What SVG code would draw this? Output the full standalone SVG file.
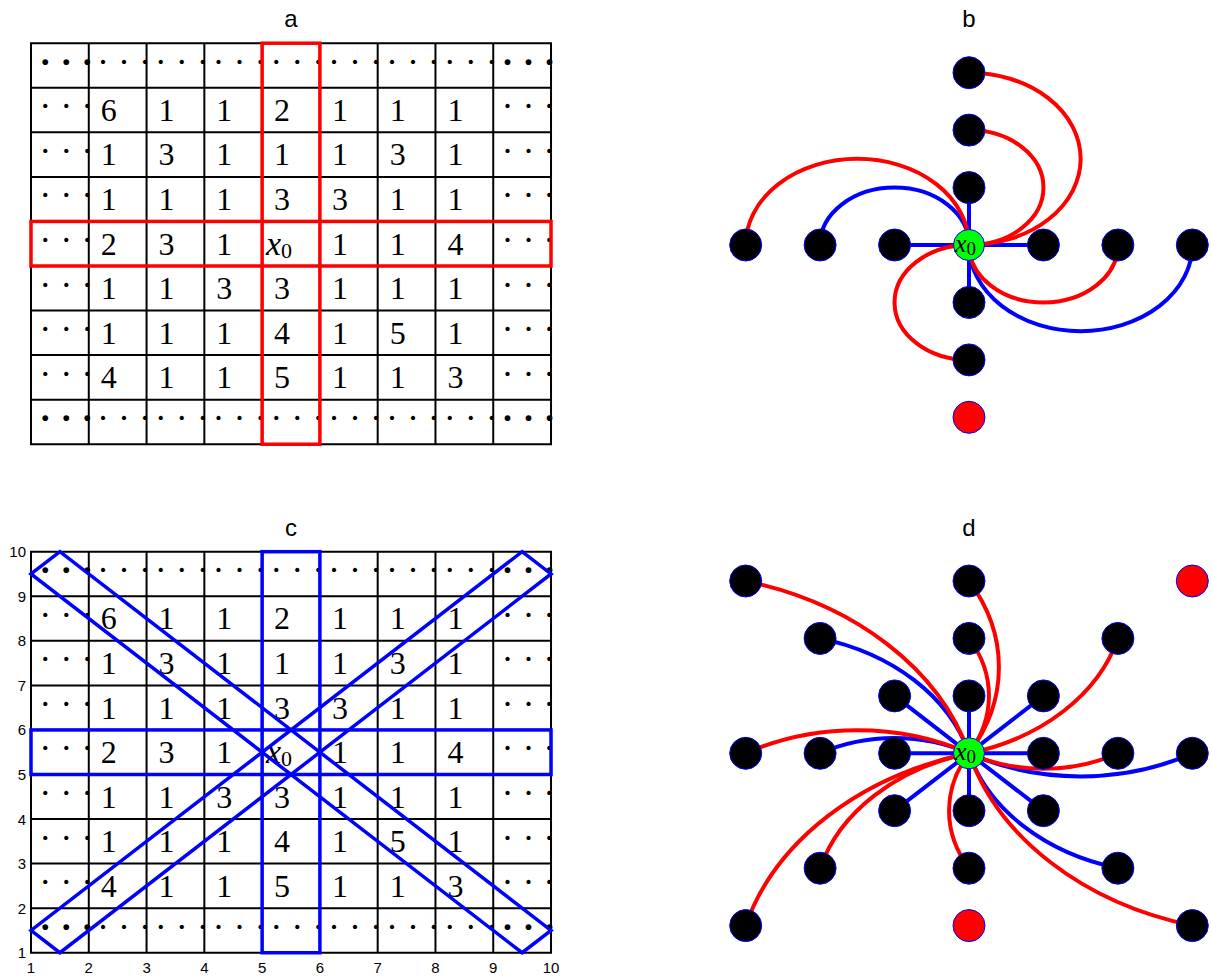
<svg xmlns="http://www.w3.org/2000/svg" width="1212" height="979" viewBox="0 0 1212 979">
<style>
.title{font-family:"Liberation Sans",Arial,sans-serif;font-size:24px;fill:#000;text-anchor:middle}
.t{font-family:"Liberation Serif","Times New Roman",serif;font-size:32px;fill:#000}
.dt{font-family:"Liberation Serif","Times New Roman",serif;font-size:36px;letter-spacing:9px;fill:#000}
.db{font-weight:bold}
.ax{font-family:"Liberation Sans",Arial,sans-serif;font-size:15px;fill:#000}
.grid{fill:none;stroke:#000;stroke-width:2}
.hlr{fill:none;stroke:#f00;stroke-width:3.5}
.hlb{fill:none;stroke:#00f;stroke-width:3.5}
.e{fill:none;stroke-width:4}
.eb{stroke:#00f}
.er{stroke:#f00}
.nk{fill:#000;stroke:#00f;stroke-width:1}
.nr{fill:#f00;stroke:#00f;stroke-width:1}
.ng{fill:#0f0;stroke:#00f;stroke-width:1}
.nl{font-family:"Liberation Serif","Times New Roman",serif;font-size:26px;font-style:italic;fill:#000}
</style>

<text class="title" x="291" y="27">a</text>
<text class="title" x="969" y="27">b</text>
<text class="title" x="291" y="536">c</text>
<text class="title" x="969" y="536">d</text>

<!-- Panel a -->
<g id="panel-a">
<path class="grid" d="M31,43.2H551.02V444.24H31Z M88.78,43.2V444.24 M146.56,43.2V444.24 M204.34,43.2V444.24 M262.12,43.2V444.24 M319.9,43.2V444.24 M377.68,43.2V444.24 M435.46,43.2V444.24 M493.24,43.2V444.24 M31,87.76H551.02 M31,132.32H551.02 M31,176.88H551.02 M31,221.44H551.02 M31,266H551.02 M31,310.56H551.02 M31,355.12H551.02 M31,399.68H551.02"/>
<g id="a-cells">
<text class="dt db" x="39.2" y="73.7">···</text><text class="dt" x="97" y="73.7">···</text><text class="dt" x="154.8" y="73.7">···</text><text class="dt" x="212.5" y="73.7">···</text><text class="dt" x="270.3" y="73.7">···</text><text class="dt" x="328.1" y="73.7">···</text><text class="dt" x="385.9" y="73.7">···</text><text class="dt" x="443.7" y="73.7">···</text><text class="dt db" x="501.4" y="73.7">···</text>
<text class="dt" x="39.2" y="118.2">···</text><text class="t" x="100.8" y="120.8">6</text><text class="t" x="158.6" y="120.8">1</text><text class="t" x="216.3" y="120.8">1</text><text class="t" x="274.1" y="120.8">2</text><text class="t" x="331.9" y="120.8">1</text><text class="t" x="389.7" y="120.8">1</text><text class="t" x="447.5" y="120.8">1</text><text class="dt" x="501.4" y="118.2">···</text>
<text class="dt" x="39.2" y="162.8">···</text><text class="t" x="100.8" y="165.4">1</text><text class="t" x="158.6" y="165.4">3</text><text class="t" x="216.3" y="165.4">1</text><text class="t" x="274.1" y="165.4">1</text><text class="t" x="331.9" y="165.4">1</text><text class="t" x="389.7" y="165.4">3</text><text class="t" x="447.5" y="165.4">1</text><text class="dt" x="501.4" y="162.8">···</text>
<text class="dt" x="39.2" y="207.4">···</text><text class="t" x="100.8" y="210">1</text><text class="t" x="158.6" y="210">1</text><text class="t" x="216.3" y="210">1</text><text class="t" x="274.1" y="210">3</text><text class="t" x="331.9" y="210">3</text><text class="t" x="389.7" y="210">1</text><text class="t" x="447.5" y="210">1</text><text class="dt" x="501.4" y="207.4">···</text>
<text class="dt" x="39.2" y="251.9">···</text><text class="t" x="100.8" y="254.5">2</text><text class="t" x="158.6" y="254.5">3</text><text class="t" x="216.3" y="254.5">1</text><text class="t" x="266" y="254.5"><tspan font-style="italic" font-size="34">x</tspan><tspan font-size="22" dy="3">0</tspan></text><text class="t" x="331.9" y="254.5">1</text><text class="t" x="389.7" y="254.5">1</text><text class="t" x="447.5" y="254.5">4</text><text class="dt" x="501.4" y="251.9">···</text>
<text class="dt" x="39.2" y="296.5">···</text><text class="t" x="100.8" y="299.1">1</text><text class="t" x="158.6" y="299.1">1</text><text class="t" x="216.3" y="299.1">3</text><text class="t" x="274.1" y="299.1">3</text><text class="t" x="331.9" y="299.1">1</text><text class="t" x="389.7" y="299.1">1</text><text class="t" x="447.5" y="299.1">1</text><text class="dt" x="501.4" y="296.5">···</text>
<text class="dt" x="39.2" y="341">···</text><text class="t" x="100.8" y="343.6">1</text><text class="t" x="158.6" y="343.6">1</text><text class="t" x="216.3" y="343.6">1</text><text class="t" x="274.1" y="343.6">4</text><text class="t" x="331.9" y="343.6">1</text><text class="t" x="389.7" y="343.6">5</text><text class="t" x="447.5" y="343.6">1</text><text class="dt" x="501.4" y="341">···</text>
<text class="dt" x="39.2" y="385.6">···</text><text class="t" x="100.8" y="388.2">4</text><text class="t" x="158.6" y="388.2">1</text><text class="t" x="216.3" y="388.2">1</text><text class="t" x="274.1" y="388.2">5</text><text class="t" x="331.9" y="388.2">1</text><text class="t" x="389.7" y="388.2">1</text><text class="t" x="447.5" y="388.2">3</text><text class="dt" x="501.4" y="385.6">···</text>
<text class="dt db" x="39.2" y="430.2">···</text><text class="dt" x="97" y="430.2">···</text><text class="dt" x="154.8" y="430.2">···</text><text class="dt" x="212.5" y="430.2">···</text><text class="dt" x="270.3" y="430.2">···</text><text class="dt" x="328.1" y="430.2">···</text><text class="dt" x="385.9" y="430.2">···</text><text class="dt" x="443.7" y="430.2">···</text><text class="dt db" x="501.4" y="430.2">···</text>
</g>
<rect class="hlr" x="262.12" y="43.2" width="57.78" height="401.04"/>
<rect class="hlr" x="31" y="221.44" width="520.02" height="44.56"/>
</g>

<!-- Panel c -->
<g id="panel-c">
<g transform="translate(0,508.5)">
<path class="grid" d="M31,43.2H551.02V444.24H31Z M88.78,43.2V444.24 M146.56,43.2V444.24 M204.34,43.2V444.24 M262.12,43.2V444.24 M319.9,43.2V444.24 M377.68,43.2V444.24 M435.46,43.2V444.24 M493.24,43.2V444.24 M31,87.76H551.02 M31,132.32H551.02 M31,176.88H551.02 M31,221.44H551.02 M31,266H551.02 M31,310.56H551.02 M31,355.12H551.02 M31,399.68H551.02"/>
<g id="c-cells">
<text class="dt db" x="39.2" y="73.7">···</text><text class="dt" x="97" y="73.7">···</text><text class="dt" x="154.8" y="73.7">···</text><text class="dt" x="212.5" y="73.7">···</text><text class="dt" x="270.3" y="73.7">···</text><text class="dt" x="328.1" y="73.7">···</text><text class="dt" x="385.9" y="73.7">···</text><text class="dt" x="443.7" y="73.7">···</text><text class="dt db" x="501.4" y="73.7">···</text>
<text class="dt" x="39.2" y="118.2">···</text><text class="t" x="100.8" y="120.8">6</text><text class="t" x="158.6" y="120.8">1</text><text class="t" x="216.3" y="120.8">1</text><text class="t" x="274.1" y="120.8">2</text><text class="t" x="331.9" y="120.8">1</text><text class="t" x="389.7" y="120.8">1</text><text class="t" x="447.5" y="120.8">1</text><text class="dt" x="501.4" y="118.2">···</text>
<text class="dt" x="39.2" y="162.8">···</text><text class="t" x="100.8" y="165.4">1</text><text class="t" x="158.6" y="165.4">3</text><text class="t" x="216.3" y="165.4">1</text><text class="t" x="274.1" y="165.4">1</text><text class="t" x="331.9" y="165.4">1</text><text class="t" x="389.7" y="165.4">3</text><text class="t" x="447.5" y="165.4">1</text><text class="dt" x="501.4" y="162.8">···</text>
<text class="dt" x="39.2" y="207.4">···</text><text class="t" x="100.8" y="210">1</text><text class="t" x="158.6" y="210">1</text><text class="t" x="216.3" y="210">1</text><text class="t" x="274.1" y="210">3</text><text class="t" x="331.9" y="210">3</text><text class="t" x="389.7" y="210">1</text><text class="t" x="447.5" y="210">1</text><text class="dt" x="501.4" y="207.4">···</text>
<text class="dt" x="39.2" y="251.9">···</text><text class="t" x="100.8" y="254.5">2</text><text class="t" x="158.6" y="254.5">3</text><text class="t" x="216.3" y="254.5">1</text><text class="t" x="266" y="254.5"><tspan font-style="italic" font-size="34">x</tspan><tspan font-size="22" dy="3">0</tspan></text><text class="t" x="331.9" y="254.5">1</text><text class="t" x="389.7" y="254.5">1</text><text class="t" x="447.5" y="254.5">4</text><text class="dt" x="501.4" y="251.9">···</text>
<text class="dt" x="39.2" y="296.5">···</text><text class="t" x="100.8" y="299.1">1</text><text class="t" x="158.6" y="299.1">1</text><text class="t" x="216.3" y="299.1">3</text><text class="t" x="274.1" y="299.1">3</text><text class="t" x="331.9" y="299.1">1</text><text class="t" x="389.7" y="299.1">1</text><text class="t" x="447.5" y="299.1">1</text><text class="dt" x="501.4" y="296.5">···</text>
<text class="dt" x="39.2" y="341">···</text><text class="t" x="100.8" y="343.6">1</text><text class="t" x="158.6" y="343.6">1</text><text class="t" x="216.3" y="343.6">1</text><text class="t" x="274.1" y="343.6">4</text><text class="t" x="331.9" y="343.6">1</text><text class="t" x="389.7" y="343.6">5</text><text class="t" x="447.5" y="343.6">1</text><text class="dt" x="501.4" y="341">···</text>
<text class="dt" x="39.2" y="385.6">···</text><text class="t" x="100.8" y="388.2">4</text><text class="t" x="158.6" y="388.2">1</text><text class="t" x="216.3" y="388.2">1</text><text class="t" x="274.1" y="388.2">5</text><text class="t" x="331.9" y="388.2">1</text><text class="t" x="389.7" y="388.2">1</text><text class="t" x="447.5" y="388.2">3</text><text class="dt" x="501.4" y="385.6">···</text>
<text class="dt db" x="39.2" y="430.2">···</text><text class="dt" x="97" y="430.2">···</text><text class="dt" x="154.8" y="430.2">···</text><text class="dt" x="212.5" y="430.2">···</text><text class="dt" x="270.3" y="430.2">···</text><text class="dt" x="328.1" y="430.2">···</text><text class="dt" x="385.9" y="430.2">···</text><text class="dt" x="443.7" y="430.2">···</text><text class="dt db" x="501.4" y="430.2">···</text>
</g>
</g>
<g id="c-highlights">
<rect class="hlb" x="262.12" y="551.7" width="57.78" height="401.04"/>
<rect class="hlb" x="31" y="729.94" width="520.02" height="44.56"/>
<polygon class="hlb" points="31,573.98 59.89,551.7 551.02,930.46 522.13,952.74"/>
<polygon class="hlb" points="31,930.46 59.89,952.74 551.02,573.98 522.13,551.7"/>
</g>
<g id="c-axis">
<text class="ax" text-anchor="end" x="26" y="958">1</text>
<text class="ax" text-anchor="end" x="26" y="913.6">2</text>
<text class="ax" text-anchor="end" x="26" y="869">3</text>
<text class="ax" text-anchor="end" x="26" y="824.5">4</text>
<text class="ax" text-anchor="end" x="26" y="779.9">5</text>
<text class="ax" text-anchor="end" x="26" y="735.3">6</text>
<text class="ax" text-anchor="end" x="26" y="690.8">7</text>
<text class="ax" text-anchor="end" x="26" y="646.2">8</text>
<text class="ax" text-anchor="end" x="26" y="601.7">9</text>
<text class="ax" text-anchor="end" x="26" y="557.1">10</text>
<text class="ax" text-anchor="middle" x="31" y="973">1</text>
<text class="ax" text-anchor="middle" x="88.78" y="973">2</text>
<text class="ax" text-anchor="middle" x="146.56" y="973">3</text>
<text class="ax" text-anchor="middle" x="204.34" y="973">4</text>
<text class="ax" text-anchor="middle" x="262.12" y="973">5</text>
<text class="ax" text-anchor="middle" x="319.9" y="973">6</text>
<text class="ax" text-anchor="middle" x="377.68" y="973">7</text>
<text class="ax" text-anchor="middle" x="435.46" y="973">8</text>
<text class="ax" text-anchor="middle" x="493.24" y="973">9</text>
<text class="ax" text-anchor="middle" x="551.02" y="973">10</text>
</g>
</g>

<!-- Panel b -->
<g id="panel-b">
<g id="b-connectors">
<path class="e eb" d="M969,245L894.6,245 M969,245L1043.4,245 M969,245L969,187.6 M969,245L969,302.4"/>
<path class="e eb" d="M820.1,245A74.43,57.43 0 0 1 969,245"/>
<path class="e eb" d="M1192.3,245A111.65,86.15 0 0 1 969,245"/>
<path class="e er" d="M745.7,245A111.65,86.15 0 0 1 969,245"/>
<path class="e er" d="M969,72.7A111.65,86.15 0 0 1 969,245"/>
<path class="e er" d="M969,130.1A74.43,57.43 0 0 1 969,245"/>
<path class="e er" d="M1117.9,245A74.43,57.43 0 0 1 969,245"/>
<path class="e er" d="M969,359.9A74.43,57.43 0 0 1 969,245"/>
</g>
<g id="b-n-m3-0"><circle class="nk" cx="745.7" cy="245" r="16"/></g>
<g id="b-n-m2-0"><circle class="nk" cx="820.1" cy="245" r="16"/></g>
<g id="b-n-m1-0"><circle class="nk" cx="894.6" cy="245" r="16"/></g>
<g id="b-n-p1-0"><circle class="nk" cx="1043.4" cy="245" r="16"/></g>
<g id="b-n-p2-0"><circle class="nk" cx="1117.9" cy="245" r="16"/></g>
<g id="b-n-p3-0"><circle class="nk" cx="1192.3" cy="245" r="16"/></g>
<g id="b-n-0-p3"><circle class="nk" cx="969" cy="72.7" r="16"/></g>
<g id="b-n-0-p2"><circle class="nk" cx="969" cy="130.1" r="16"/></g>
<g id="b-n-0-p1"><circle class="nk" cx="969" cy="187.6" r="16"/></g>
<g id="b-n-0-m1"><circle class="nk" cx="969" cy="302.4" r="16"/></g>
<g id="b-n-0-m2"><circle class="nk" cx="969" cy="359.9" r="16"/></g>
<g id="b-n-0-m3"><circle class="nr" cx="969" cy="417.3" r="16"/></g>
<g id="b-n-x0"><circle class="ng" cx="969" cy="245" r="15.5"/><text class="nl" x="955" y="251.5">x<tspan font-style="normal" font-size="19" dy="3">0</tspan></text></g>
</g>

<!-- Panel d -->
<g id="panel-d">
<g id="d-connectors">
<path class="e eb" d="M969,753.3L894.6,753.3 M969,753.3L1043.4,753.3 M969,753.3L969,695.9 M969,753.3L969,810.7 M969,753.3L894.6,695.9 M969,753.3L1043.4,695.9 M969,753.3L894.6,810.7 M969,753.3L1043.4,810.7"/>
<path class="e eb" d="M820.1,638.4A210.5,162.4 0 0 1 969,753.3"/>
<path class="e eb" d="M820.1,753.3A148.9,114.9 0 0 1 969,753.3"/>
<path class="e eb" d="M1192.3,753.3A223.3,172.3 0 0 1 969,753.3"/>
<path class="e eb" d="M1117.9,868.2A210.5,162.4 0 0 1 969,753.3"/>
<path class="e er" d="M745.7,581A315.8,243.7 0 0 1 969,753.3"/>
<path class="e er" d="M969,581A223.3,172.3 0 0 1 969,753.3"/>
<path class="e er" d="M969,638.4A148.9,114.9 0 0 1 969,753.3"/>
<path class="e er" d="M1117.9,638.4A210.5,162.4 0 0 1 969,753.3"/>
<path class="e er" d="M745.7,753.3A223.3,172.3 0 0 1 969,753.3"/>
<path class="e er" d="M1117.9,753.3A148.9,114.9 0 0 1 969,753.3"/>
<path class="e er" d="M745.7,925.6A315.8,243.7 0 0 1 969,753.3"/>
<path class="e er" d="M820.1,868.2A210.5,162.4 0 0 1 969,753.3"/>
<path class="e er" d="M969,868.2A148.9,114.9 0 0 1 969,753.3"/>
<path class="e er" d="M1192.3,925.6A315.8,243.7 0 0 1 969,753.3"/>
</g>
<g id="d-n-m3-p3"><circle class="nk" cx="745.7" cy="581" r="16"/></g>
<g id="d-n-0-p3"><circle class="nk" cx="969" cy="581" r="16"/></g>
<g id="d-n-p3-p3"><circle class="nr" cx="1192.3" cy="581" r="16"/></g>
<g id="d-n-m2-p2"><circle class="nk" cx="820.1" cy="638.4" r="16"/></g>
<g id="d-n-0-p2"><circle class="nk" cx="969" cy="638.4" r="16"/></g>
<g id="d-n-p2-p2"><circle class="nk" cx="1117.9" cy="638.4" r="16"/></g>
<g id="d-n-m1-p1"><circle class="nk" cx="894.6" cy="695.9" r="16"/></g>
<g id="d-n-0-p1"><circle class="nk" cx="969" cy="695.9" r="16"/></g>
<g id="d-n-p1-p1"><circle class="nk" cx="1043.4" cy="695.9" r="16"/></g>
<g id="d-n-m3-0"><circle class="nk" cx="745.7" cy="753.3" r="16"/></g>
<g id="d-n-m2-0"><circle class="nk" cx="820.1" cy="753.3" r="16"/></g>
<g id="d-n-m1-0"><circle class="nk" cx="894.6" cy="753.3" r="16"/></g>
<g id="d-n-p1-0"><circle class="nk" cx="1043.4" cy="753.3" r="16"/></g>
<g id="d-n-p2-0"><circle class="nk" cx="1117.9" cy="753.3" r="16"/></g>
<g id="d-n-p3-0"><circle class="nk" cx="1192.3" cy="753.3" r="16"/></g>
<g id="d-n-m1-m1"><circle class="nk" cx="894.6" cy="810.7" r="16"/></g>
<g id="d-n-0-m1"><circle class="nk" cx="969" cy="810.7" r="16"/></g>
<g id="d-n-p1-m1"><circle class="nk" cx="1043.4" cy="810.7" r="16"/></g>
<g id="d-n-m2-m2"><circle class="nk" cx="820.1" cy="868.2" r="16"/></g>
<g id="d-n-0-m2"><circle class="nk" cx="969" cy="868.2" r="16"/></g>
<g id="d-n-p2-m2"><circle class="nk" cx="1117.9" cy="868.2" r="16"/></g>
<g id="d-n-m3-m3"><circle class="nk" cx="745.7" cy="925.6" r="16"/></g>
<g id="d-n-0-m3"><circle class="nr" cx="969" cy="925.6" r="16"/></g>
<g id="d-n-p3-m3"><circle class="nk" cx="1192.3" cy="925.6" r="16"/></g>
<g id="d-n-x0"><circle class="ng" cx="969" cy="753.3" r="15.5"/><text class="nl" x="955" y="759.8">x<tspan font-style="normal" font-size="19" dy="3">0</tspan></text></g>
</g>
</svg>
